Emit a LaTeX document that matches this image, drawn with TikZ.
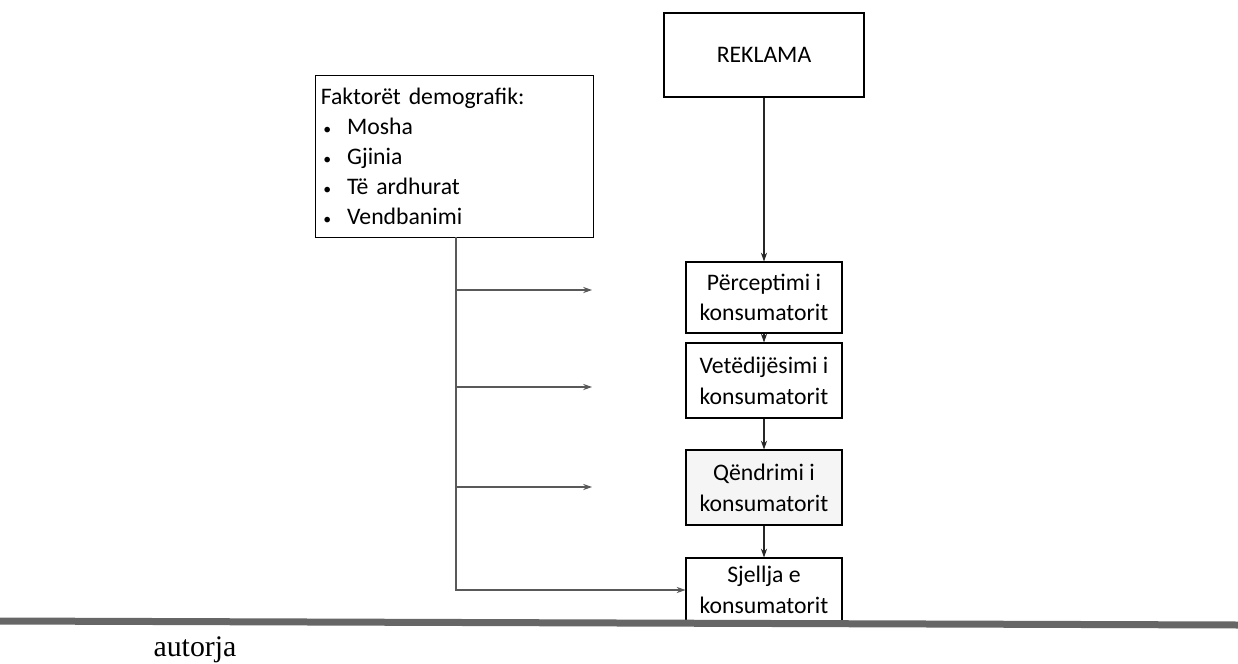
\documentclass[tikz,border=0pt]{standalone}
\usepackage{fontspec}
\setmainfont{Carlito}
\newfontfamily\srcfont{Liberation Serif}
\usetikzlibrary{arrows.meta}

\newcommand*{\itm}[1]{\makebox[15pt][l]{\hspace{1.5pt}\small\textbullet}#1}

\begin{document}
\begin{tikzpicture}
        [x=0.02cm,y=-0.02cm,
          boxdecorate/.style={draw,line width=0.6pt,align=center,inner sep=2pt,
            font=\fontsize{13.5}{16}\selectfont},
          stagedecorate/.style={boxdecorate,minimum width=3.12cm},
          linedecorate/.style={line width=0.6pt,black!85},
          arrowdecorate/.style={linedecorate,-{Stealth[length=5pt,width=3.5pt]}},
          branchdecorate/.style={arrowdecorate,black!65}]
        \useasboundingbox (0,0) rectangle (1238,663);
        %% boxes
        \node (reklama) at (764,55) [boxdecorate,minimum width=4cm,
          minimum height=1.68cm] {REKLAMA};
        \node (faktoret) at (315,75) [boxdecorate,anchor=north west,align=left,
          text width=5.35cm,minimum height=3.24cm,inner sep=3pt]
          {\fontsize{13.5}{17}\selectfont
            Faktorët demografik:\\ \itm{Mosha}\\ \itm{Gjinia}\\
            \itm{Të ardhurat}\\ \itm{Vendbanimi}\par};
        \foreach \nodename/\y/\h/\shade/\txt in
          {perceptimi/297.5/1.42/white/{Përceptimi i\\[1.5pt]konsumatorit},
           vetedijesimi/380.5/1.5/white/{Vetëdijësimi i\\[1.5pt]konsumatorit},
           qendrimi/487.5/1.5/black!4/{Qëndrimi i\\[1.5pt]konsumatorit},
           sjellja/590/1.28/white/{Sjellja e\\[1.5pt]konsumatorit}}
        {
          \node (\nodename) at (764,\y) [stagedecorate,fill=\shade,
            minimum height=\h cm] {\txt};
        }
        %% chain arrows
        \foreach \startnode/\endnode in {reklama/perceptimi,
          perceptimi/vetedijesimi, vetedijesimi/qendrimi, qendrimi/sjellja}
        {
          \draw[arrowdecorate] (\startnode) -- (\endnode);
        }
        %% demographic branch
        \coordinate (trunk) at (456,237);
        \draw[branchdecorate] (trunk) |- (sjellja.west);
        \foreach \y in {290,387,487}
        {
          \coordinate (from\y) at (456,\y);
          \coordinate (to\y) at (592,\y);
          \draw[branchdecorate] (from\y) -- (to\y);
        }
        %% source line
        \draw[line width=0.14cm,black!60] (0,621) -- (1238,625);
        \node (autorja) at (195,650) [font=\srcfont\fontsize{17}{20}\selectfont]
          {autorja};
\end{tikzpicture}
\end{document}
